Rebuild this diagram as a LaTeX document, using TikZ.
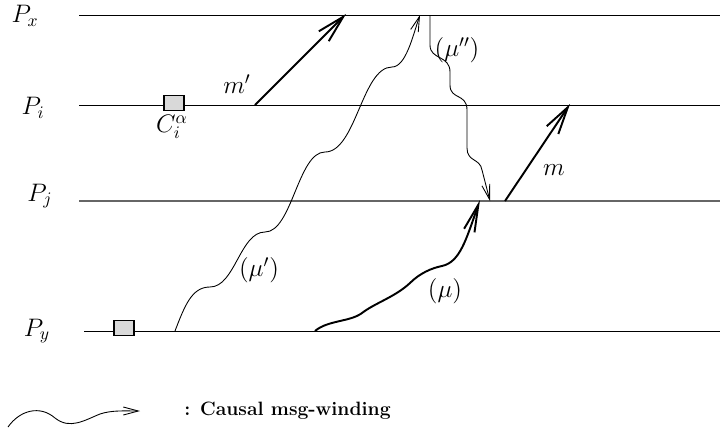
\documentclass[tikz,border=0pt]{standalone}
\usepackage{amsmath}
\usetikzlibrary{arrows.meta}

\begin{document}
\begin{tikzpicture}[
  x=0.02cm, y=-0.02cm,
  proc/.style={line width=0.55pt},
  procg/.style={line width=0.9pt, draw=black!60},
  ckpt/.style={draw, fill=black!15, line width=0.6pt, minimum width=4mm, minimum height=3mm, inner sep=0pt},
  msg/.style={-{Straight Barb[length=5.5mm, width=2.8mm]}, line width=1.1pt},
  wind/.style={-{Straight Barb[length=3mm, width=1.6mm]}, line width=0.5pt},
  windb/.style={-{Straight Barb[length=5.5mm, width=2.2mm]}, line width=1.1pt},
  lbl/.style={font=\Large, inner sep=1pt}
]
\useasboundingbox (0,0) rectangle (720,430);

\node[lbl] (px) at (25,16)  {$P_x$};
\node[lbl] (pi) at (33,108) {$P_i$};
\node[lbl] (pj) at (40,196) {$P_j$};
\node[lbl] (py) at (37,331) {$P_y$};

\coordinate (xl) at (79,15);  \coordinate (xr) at (720,15);
\coordinate (il) at (79,105); \coordinate (ir) at (720,105);
\coordinate (jl) at (79,201); \coordinate (jr) at (720,201);
\coordinate (yl) at (84,331); \coordinate (yr) at (720,331);

\draw[proc]  (xl) -- (xr);
\draw[proc]  (il) -- (ir);
\draw[procg] (jl) -- (jr);
\draw[proc]  (yl) -- (yr);

\node[ckpt] (ci) at (174,103) {};
\node[lbl, inner sep=0pt] (cilbl) at (172,127) {$C_i^{\alpha}$};
\node[ckpt] (cy) at (124,328) {};

\coordinate (mps) at (255,105); \coordinate (mpr) at (346,14);
\coordinate (ms)  at (505,201); \coordinate (mr)  at (570,104);
\draw[msg] (mps) -- (mpr);
\draw[msg] (ms) -- (mr);
\node[lbl] (mplbl) at (237,84)  {$m'$};
\node[lbl] (mlbl)  at (554,170) {$m$};

% mu'
\coordinate (ups) at (175,331); \coordinate (upr) at (420,15);
\draw[wind] (ups) .. controls (185,305) and (192,287) .. (210,287)
  .. controls (235,287) and (240,232) .. (265,232)
  .. controls (292,232) and (298,152) .. (325,152)
  .. controls (356,152) and (362,67) .. (392,67)
  .. controls (406,67) and (413,35) .. (upr);
\node[lbl] (uplbl) at (259,270) {$(\mu')$};

% mu''
\coordinate (upps) at (430,15); \coordinate (uppr) at (490,201);
\draw[wind] (upps) -- (430,45) .. controls (430,60) and (450,55) .. (450,72)
  -- (450,85) .. controls (450,100) and (467,93) .. (467,110)
  -- (467,148) .. controls (467,162) and (480,158) .. (482,170) -- (uppr);
\node[lbl] (upplbl) at (457,50) {$(\mu'')$};

% mu
\coordinate (us) at (315,331); \coordinate (ur) at (480,200);
\draw[windb] (us) .. controls (328,320) and (350,322) .. (362,313)
  .. controls (375,303) and (395,297) .. (410,283)
  .. controls (420,273) and (432,268) .. (442,266)
  .. controls (460,262) and (466,240) .. (ur);
\node[lbl] (ulbl) at (445,291) {$(\mu)$};

% legend
\coordinate (lgs) at (8,427); \coordinate (lge) at (140,411);
\draw[wind] (lgs) .. controls (20,410) and (40,405) .. (55,418)
  .. controls (70,430) and (85,420) .. (100,414)
  .. controls (112,410) and (125,411) .. (lge);
\node[anchor=west, font=\fontsize{11}{13}\bfseries, inner sep=0pt] (lgtxt) at (184,411) {: Causal msg-winding};
\end{tikzpicture}
\end{document}
